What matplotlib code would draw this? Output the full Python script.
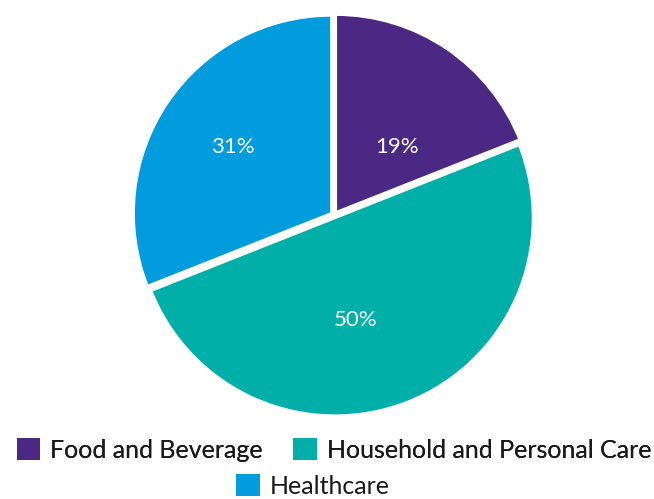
import matplotlib.pyplot as plt
from matplotlib.patches import Patch

# data
labels = ["Food and Beverage", "Household and Personal Care", "Healthcare"]
shares = [19, 50, 31]
colors = ["#4B2883", "#00AFA8", "#009CDE"]
# where the percentage labels sit (in pie-radius units)
label_xy = [(0.32, 0.345), (0.11, -0.53), (-0.51, 0.345)]

plt.rcParams["font.family"] = ["Lato", "DejaVu Sans"]

fig = plt.figure(figsize=(6.54, 4.99), dpi=100)
ax = fig.add_axes([134 / 654, 84 / 499, 400 / 654, 400 / 499])

wedges, texts, autotexts = ax.pie(
    shares,
    colors=colors,
    startangle=90,
    counterclock=False,
    explode=[0.015] * len(shares),
    autopct="%d%%",
    wedgeprops=dict(edgecolor="white", linewidth=2),
    textprops=dict(color="white", fontsize=16),
)
for t, xy in zip(autotexts, label_xy):
    t.set_position(xy)
ax.set_xlim(-1.01, 1.01)
ax.set_ylim(-1.01, 1.01)
ax.set_aspect("equal")

handles = [Patch(facecolor=c, edgecolor="none") for c in colors]

leg_font = dict(size=18)
leg1 = fig.legend(handles[:2], labels[:2], loc="center", ncol=2,
                  bbox_to_anchor=(334 / 654, 49 / 499), frameon=False,
                  prop=leg_font, handlelength=0.95, handleheight=0.95,
                  handletextpad=0.4, columnspacing=1.2,
                  labelcolor="#1a1a1a")
leg2 = fig.legend(handles[2:], labels[2:], loc="center", ncol=1,
                  bbox_to_anchor=(313 / 654, 13 / 499), frameon=False,
                  prop=leg_font, handlelength=0.95, handleheight=0.95,
                  handletextpad=0.4, labelcolor="#1a1a1a",
                  borderaxespad=0, borderpad=0.2)
fig.add_artist(leg1)

plt.savefig("out.png", dpi=100)
